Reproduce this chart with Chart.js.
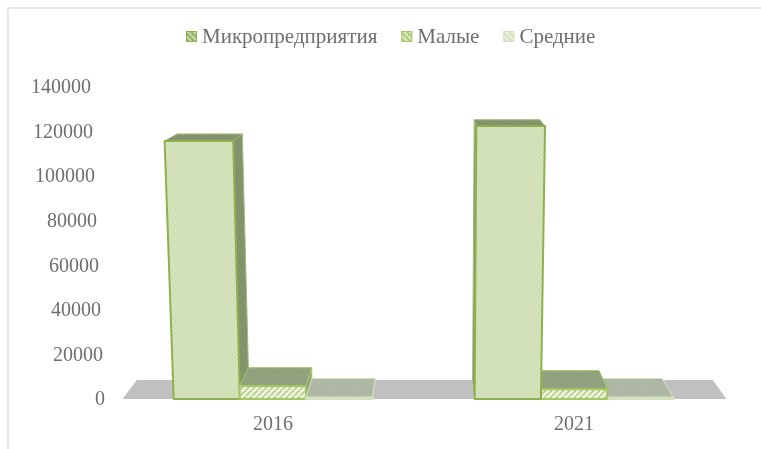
<!DOCTYPE html>
<html>
<head>
<meta charset="utf-8">
<style>
html, body { margin: 0; padding: 0; background: #ffffff; }
#wrap { width: 761px; height: 449px; }
</style>
<script src="https://cdn.jsdelivr.net/npm/chart.js@4"></script>
</head>
<body>
<div id="wrap"><canvas id="barChart" width="761" height="449"></canvas></div>
<script>
const years = ['2016', '2021'];
const microValues = [115800, 122500];
const smallValues = [5800, 4400];
const mediumValues = [700, 700];
const seriesNames = ['Микропредприятия', 'Малые', 'Средние'];
const yMax = 140000;
const yStep = 20000;

const textColor = '#6e6e6e';
const serif = '"Liberation Serif", "Times New Roman", serif';

// small tile with diagonal lines, used for all bar faces
function hatch(bg, line, size, width, dir) {
    const c = document.createElement('canvas');
    c.width = size;
    c.height = size;
    const g = c.getContext('2d');
    g.fillStyle = bg;
    g.fillRect(0, 0, size, size);
    g.strokeStyle = line;
    g.lineWidth = width;
    for (let i = -1; i <= 1; i++) {
        g.beginPath();
        if (dir > 0) {
            g.moveTo(i * size, size);
            g.lineTo((i + 1) * size, 0);
        } else {
            g.moveTo(i * size, 0);
            g.lineTo((i + 1) * size, size);
        }
        g.stroke();
    }
    return g.createPattern(c, 'repeat');
}

const legendFills = [
    hatch('#9ab56a', '#cfdeb2', 6, 1.6, -1),
    hatch('#b4cf83', '#e2ecd0', 6, 1.6, -1),
    hatch('#d6e2c4', '#eef3e6', 6, 1.6, -1)
];
const frontFills = [
    hatch('#d9e5c2', '#c9dbaa', 4, 1.2, 1),
    hatch('#f2f6ea', '#bcd48f', 6, 2.2, 1),
    hatch('#e3ebd4', '#d3dfc0', 4, 1.2, 1)
];
const sideFills = [
    hatch('#7f9068', '#8a9a76', 3, 1, 1),
    hatch('#8d9d79', '#9aa988', 3, 1, 1),
    hatch('#acb4a2', '#b5bcab', 3, 1, 1)
];
const edgeColors = ['#8fb04e', '#a3c763', '#d4e1be'];
const sideEdges = ['#a9bb7c', '#a3c763', '#d4e1be'];

// fake perspective of the original 3D chart
const vanishX = 430;
const vanishY = -9.6;
const depth = 0.9535;
const lean = 0.000137;

function front(x, y, base) {
    return [x + lean * (x - vanishX) * (base - y), y];
}
function back(p) {
    return [vanishX + depth * (p[0] - vanishX), vanishY + depth * (p[1] - vanishY)];
}
function poly(ctx, pts, fill, stroke, lw) {
    ctx.beginPath();
    pts.forEach((p, i) => i ? ctx.lineTo(p[0], p[1]) : ctx.moveTo(p[0], p[1]));
    ctx.closePath();
    ctx.fillStyle = fill;
    ctx.fill();
    if (stroke) {
        ctx.strokeStyle = stroke;
        ctx.lineWidth = lw;
        ctx.lineJoin = 'round';
        ctx.stroke();
    }
}

const bars3d = {
    id: 'bars3d',
    beforeDatasetsDraw(chart) {
        const ctx = chart.ctx;
        const area = chart.chartArea;
        const base = chart.scales.y.getPixelForValue(0);

        // frame, only top and left are visible in the original
        ctx.save();
        ctx.fillStyle = '#e6e6e6';
        ctx.fillRect(7, 7, 754, 2);
        ctx.fillRect(7, 7, 2, 442);

        // legend sits tight, the built in one leaves too wide a gap after the box
        ctx.font = '21px ' + serif;
        ctx.textAlign = 'left';
        ctx.textBaseline = 'middle';
        let lx = 186;
        chart.data.datasets.forEach((ds, i) => {
            ctx.fillStyle = ds.backgroundColor;
            ctx.fillRect(lx, 31, 11, 11);
            ctx.strokeStyle = ds.borderColor;
            ctx.lineWidth = 1;
            ctx.strokeRect(lx + 0.5, 31.5, 10, 10);
            ctx.fillStyle = textColor;
            ctx.fillText(ds.label, lx + 16, 37);
            lx += 16 + ctx.measureText(ds.label).width + 24;
        });

        // floor
        const fl = [area.left, base];
        const fr = [area.right + 2, base];
        poly(ctx, [fl, fr, back(fr), back(fl)], '#c0c0c0');

        // all parts of bars, far from the vanishing point first
        const parts = [];
        chart.data.datasets.forEach((ds, i) => {
            chart.getDatasetMeta(i).data.forEach(el => parts.push({ el, i }));
        });
        parts.sort((a, b) => Math.abs(b.el.x - vanishX) - Math.abs(a.el.x - vanishX));
        parts.forEach(({ el, i }) => {
            const l = el.x - el.width / 2;
            const r = el.x + el.width / 2;
            const bl = front(l, base, base);
            const br = front(r, base, base);
            const tl = front(l, el.y, base);
            const tr = front(r, el.y, base);
            if (r < vanishX) {
                poly(ctx, [br, tr, back(tr), back(br)], sideFills[i], sideEdges[i], 1);
            } else if (l > vanishX) {
                poly(ctx, [bl, tl, back(tl), back(bl)], sideFills[i], sideEdges[i], 1);
            }
            poly(ctx, [tl, tr, back(tr), back(tl)], sideFills[i], sideEdges[i], 1);
            poly(ctx, [bl, br, tr, tl], frontFills[i], edgeColors[i], 2);
        });

        // y labels follow the lean of the floor too
        ctx.fillStyle = textColor;
        ctx.font = '20px ' + serif;
        ctx.textAlign = 'right';
        ctx.textBaseline = 'middle';
        chart.scales.y.ticks.forEach(t => {
            const y = chart.scales.y.getPixelForValue(t.value);
            ctx.fillText(String(t.value), front(105, y, base)[0], y + 1);
        });
        ctx.restore();
        return false;
    }
};

new Chart(document.getElementById('barChart'), {
    type: 'bar',
    data: {
        labels: years,
        datasets: [
            { label: seriesNames[0], data: microValues, backgroundColor: legendFills[0], borderColor: edgeColors[0], borderWidth: 1 },
            { label: seriesNames[1], data: smallValues, backgroundColor: legendFills[1], borderColor: edgeColors[1], borderWidth: 1 },
            { label: seriesNames[2], data: mediumValues, backgroundColor: legendFills[2], borderColor: edgeColors[2], borderWidth: 1 }
        ]
    },
    plugins: [bars3d],
    options: {
        responsive: false,
        animation: false,
        layout: { padding: { top: 87, right: 36.5, left: 0, bottom: 0 } },
        datasets: { bar: { categoryPercentage: 0.66, barPercentage: 1 } },
        plugins: {
            tooltip: { enabled: false },
            legend: { display: false }
        },
        scales: {
            x: {
                grid: { display: false },
                border: { display: false },
                ticks: { color: textColor, font: { family: serif, size: 20 }, padding: 6 },
                afterFit(scale) { scale.height = 50; }
            },
            y: {
                min: 0,
                max: yMax,
                grid: { display: false },
                border: { display: false },
                ticks: { display: false, stepSize: yStep },
                afterFit(scale) { scale.width = 122.5; }
            }
        }
    }
});
</script>
</body>
</html>
